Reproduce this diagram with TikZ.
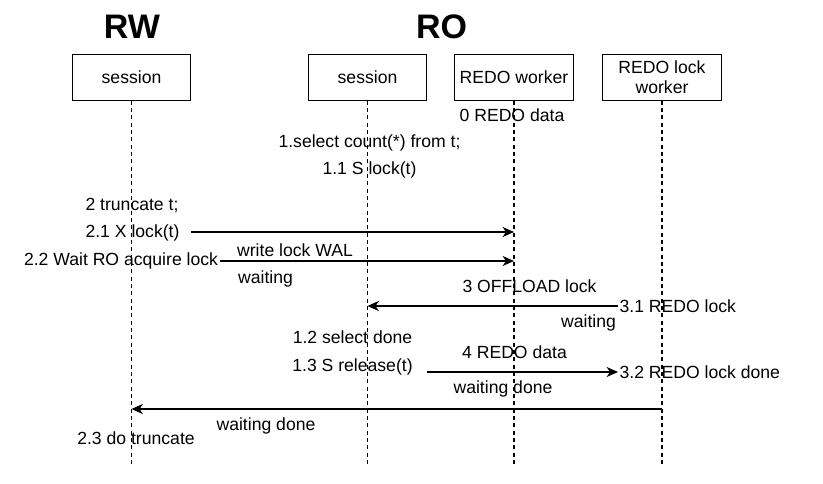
\documentclass[tikz,border=0pt]{standalone}
\usepackage{fontspec}
\setmainfont{Liberation Sans}
\usetikzlibrary{arrows.meta}
\tikzset{
  side/.style={inner sep=0pt, font=\fontsize{25.5pt}{30pt}\selectfont\bfseries},
  actor/.style={draw, line width=0.9pt, minimum width=89pt, minimum height=34pt, align=center, font=\fontsize{13.2pt}{15pt}\selectfont},
  lifeline/.style={line width=0.9pt, dash pattern=on 3pt off 2.5pt},
  msg/.style={line width=0.9pt, -{Stealth[length=8.5pt,width=7.5pt,inset=2.5pt]}},
  lbl/.style={inner sep=1pt, font=\fontsize{13.2pt}{15pt}\selectfont}
}

\begin{document}
\begin{tikzpicture}[x=0.75pt, y=-0.75pt]
  \useasboundingbox (0,0) rectangle (823,484);
  % heads
  \node[side] (rwT) at (132,27) {RW};
  \node[side] (roT) at (441.5,27) {RO};
  \node[actor] (rw) at (131.5,77.5) {session};
  \node[actor] (ro) at (367.5,77.5) {session};
  \node[actor] (redo) at (514,77.5) {REDO worker};
  \node[actor] (lock) at (662,77.5) {REDO lock\\worker};
  \foreach \n in {rw,ro,redo,lock}
    \draw[lifeline] (\n.south) -- (\n.south |- 0,467) coordinate (\n-end);
  % steps
  \node[lbl] (t0) at (512,115) {0 REDO data};
  \node[lbl] (t1) at (369.5,143) {1.select count(*) from t;};
  \node[lbl] (t11) at (369.5,170) {1.1 S lock(t)};
  \node[lbl] (t2) at (132,205) {2 truncate t;};
  \node[lbl] (t21) at (132.5,233) {2.1 X lock(t)};
  \node[lbl] (t22) at (121,261) {2.2 Wait RO acquire lock};
  \node[lbl] (wal) at (295,250) {write lock WAL};
  \node[lbl] (w1) at (265.5,279) {waiting};
  \node[lbl] (t3) at (529.5,286) {3 OFFLOAD lock};
  \node[lbl, anchor=west] (t31) at (618,306) {3.1 REDO lock};
  \node[lbl] (w2) at (588.5,323) {waiting};
  \node[lbl] (t12) at (352.5,337) {1.2 select done};
  \node[lbl] (t4) at (514.5,352) {4 REDO data};
  \node[lbl] (t13) at (352.5,367) {1.3 S release(t)};
  \node[lbl, anchor=west] (t32) at (618,372) {3.2 REDO lock done};
  \node[lbl] (wd1) at (503,389) {waiting done};
  \node[lbl] (wd2) at (266,426) {waiting done};
  \node[lbl] (t23) at (136,438) {2.3 do truncate};
  % messages
  \coordinate (s21) at (rw.east |- 0,232);
  \draw[msg] (s21) -- (s21 -| redo);
  \draw[msg] (t22.east) -- (t22.east -| redo);
  \draw[msg] (t31.west) -- (t31.west -| ro);
  \coordinate (s13) at (ro.east |- 0,372);
  \draw[msg] (s13) -- (t32.west);
  \coordinate (s4) at (lock.south |- 0,409);
  \draw[msg] (s4) -- (s4 -| rw);
\end{tikzpicture}
\end{document}
